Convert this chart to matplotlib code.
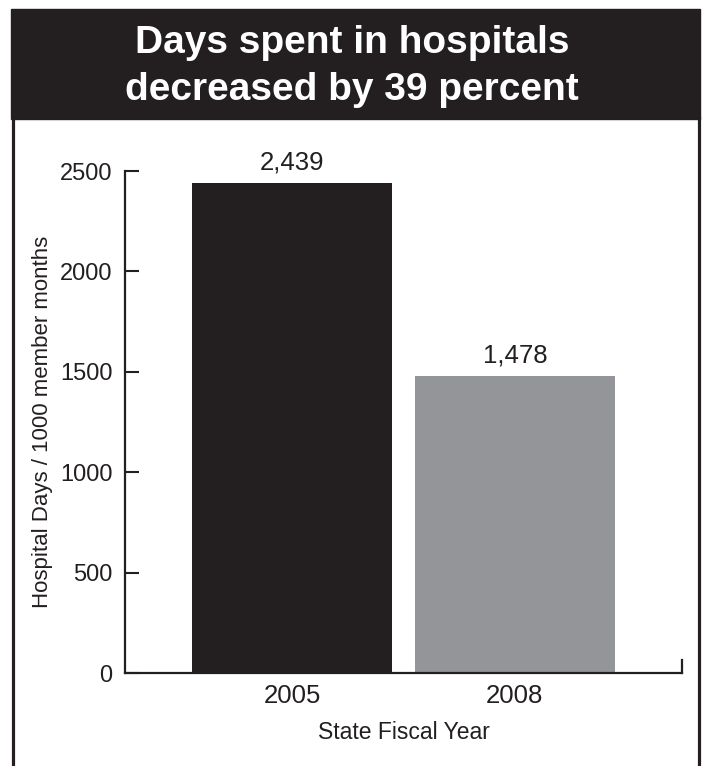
import matplotlib.pyplot as plt
from matplotlib.patches import Rectangle
from matplotlib.lines import Line2D

plt.rcParams['font.family'] = ['Liberation Sans', 'DejaVu Sans']

years = ['2005', '2008']
hospital_days = [2439, 1478]
bar_colors = ['#231f20', '#939598']
title_lines = ['Days spent in hospitals', 'decreased by 39 percent']

ink = '#231f20'
W, H = 702, 766

fig = plt.figure(figsize=(W / 100, H / 100), dpi=100)

# black banner with the headline, and the frame running down both sides
fig.patches.append(Rectangle((11 / W, 1 - 119 / H), 689 / W, 110 / H,
                             transform=fig.transFigure, color=ink, zorder=0))
for x in (12.5, 698.5):
    fig.lines.append(Line2D([x / W, x / W], [0, 1 - 118 / H],
                            transform=fig.transFigure, color=ink, lw=2.3))
for line, base in zip(title_lines, (53, 100)):
    fig.text(352 / W, 1 - base / H, line, color='white', fontsize=28,
             fontweight='bold', ha='center', va='baseline')

ax = fig.add_axes([125 / W, 1 - 673 / H, 557 / W, 502 / H])
pos = range(len(years))
ax.bar(pos, hospital_days, width=0.9, color=bar_colors, zorder=2)
for p, v in zip(pos, hospital_days):
    ax.text(p, v + 70, f'{v:,}', ha='center', va='baseline',
            fontsize=18.5, color=ink)

ax.set_xlim(-0.75, 1.75)
ax.set_ylim(0, 2500)
ax.set_yticks(range(0, 2501, 500))
ax.set_xticks(list(pos))
ax.set_xticklabels(years)
ax.tick_params(axis='y', direction='in', length=10, width=1.5, color=ink,
               labelsize=17, labelcolor=ink, pad=9)
ax.tick_params(axis='x', length=0, labelsize=18.5, labelcolor=ink, pad=8)

for side in ('top', 'right'):
    ax.spines[side].set_visible(False)
for side in ('left', 'bottom'):
    ax.spines[side].set_color(ink)
    ax.spines[side].set_linewidth(1.6)
ax.axvline(1.75, ymin=0, ymax=0.026, color=ink, lw=1.6, clip_on=False)

ax.set_xlabel('State Fiscal Year', fontsize=16.5, color=ink, labelpad=9)
ax.set_ylabel('Hospital Days / 1000 member months', fontsize=16, color=ink,
              labelpad=5)

fig.savefig('out.png', dpi=100)
